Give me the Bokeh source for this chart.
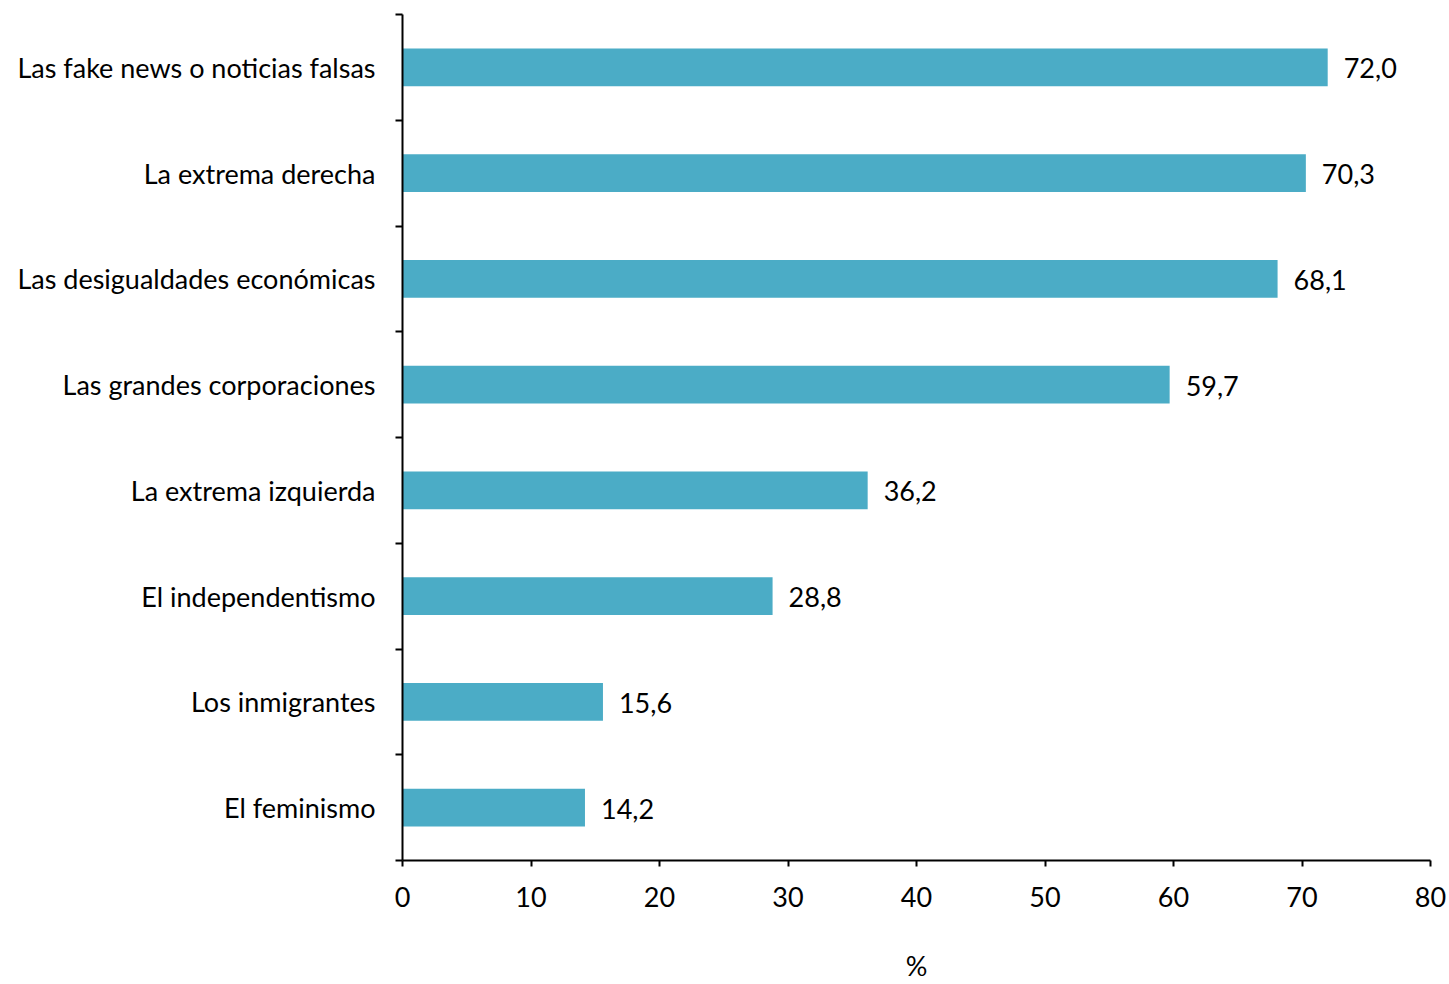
from bokeh.plotting import figure
from bokeh.models import FixedTicker, ColumnDataSource, Range1d
from bokeh.core.properties import value
from bokeh.embed import file_html
from bokeh.resources import INLINE

categories = ["Las fake news o noticias falsas", "La extrema derecha",
              "Las desigualdades económicas", "Las grandes corporaciones",
              "La extrema izquierda", "El independentismo",
              "Los inmigrantes", "El feminismo"]
values = [72.0, 70.3, 68.1, 59.7, 36.2, 28.8, 15.6, 14.2]
x_ticks = [0, 10, 20, 30, 40, 50, 60, 70, 80]
x_label = "%"

FONT = "Lato"
FS = "27px"
n = len(categories)
ys = [n - 0.5 - i for i in range(n)]
labels = [f"{v:.1f}".replace(".", ",") for v in values]
src = ColumnDataSource(dict(y=ys, v=values, lab=labels, cat=categories))

p = figure(width=1449, height=984, output_backend="svg", toolbar_location=None,
           x_range=Range1d(0, 80), y_range=Range1d(0, n),
           min_border_left=402, min_border_right=19, min_border_top=14,
           min_border_bottom=122)
p.outline_line_color = None
p.xgrid.visible = False
p.ygrid.visible = False
p.background_fill_color = "white"

p.hbar(y="y", right="v", left=0, height=0.358, source=src,
       fill_color="#4BACC6", line_color=None)
p.text(x="v", y="y", text="lab", source=src, x_offset=16, y_offset=1,
       text_baseline="middle", text_align="left", text_font=value(FONT),
       text_font_size=FS, text_color="black")

# y axis
ya = p.yaxis[0]
ya.ticker = FixedTicker(ticks=ys, minor_ticks=[float(i) for i in range(n + 1)])
ya.major_label_overrides = {y: c for y, c in zip(ys, categories)}
ya.major_tick_out = 0
ya.major_tick_in = 0
ya.minor_tick_out = 7
ya.minor_tick_in = 0
ya.minor_tick_line_width = 2
ya.minor_tick_line_color = "black"
ya.axis_line_width = 2
ya.axis_line_color = "black"
ya.major_label_standoff = 20
ya.major_label_text_font = FONT
ya.major_label_text_font_size = FS
ya.major_label_text_color = "black"

# x axis
xa = p.xaxis[0]
xa.ticker = FixedTicker(ticks=x_ticks, minor_ticks=[])
xa.major_tick_out = 6
xa.major_tick_in = 0
xa.major_tick_line_width = 2
xa.major_tick_line_color = "black"
xa.axis_line_width = 2
xa.axis_line_color = "black"
xa.major_label_standoff = 20
xa.major_label_text_font = FONT
xa.major_label_text_font_size = FS
xa.major_label_text_color = "black"
xa.axis_label = x_label
xa.axis_label_standoff = 39
xa.axis_label_text_font = FONT
xa.axis_label_text_font_size = FS
xa.axis_label_text_font_style = "normal"
xa.axis_label_text_color = "black"

open("out.html", "w").write(file_html(p, INLINE))
